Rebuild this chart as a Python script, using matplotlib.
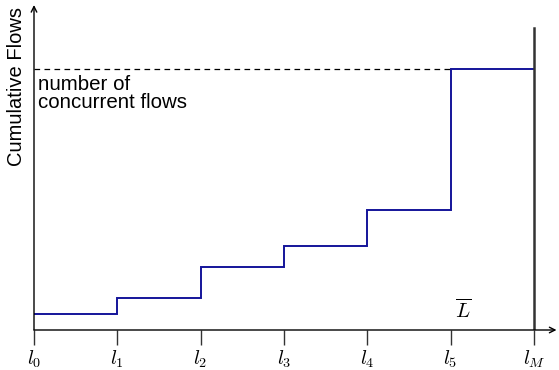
import matplotlib.pyplot as plt

plt.rcParams["mathtext.fontset"] = "cm"
plt.rcParams["font.family"] = ["Liberation Sans", "DejaVu Sans"]

# Step boundaries (link positions) and cumulative flow level on each step
tick_labels = [r"$l_0$", r"$l_1$", r"$l_2$", r"$l_3$", r"$l_4$", r"$l_5$", r"$l_M$"]
positions = [0, 1, 2, 3, 4, 5, 6]
levels = [16, 32, 63, 84, 120, 261]
concurrent = 261

fig = plt.figure(figsize=(5.59, 3.70), dpi=100)
ax = fig.add_axes([34 / 559, 40 / 370, 525 / 559, 325 / 370])
ax.set_xlim(0, 6.3)
ax.set_ylim(0, 325)

# staircase of cumulative flows
xs, ys = [], []
for i, v in enumerate(levels):
    xs += [positions[i], positions[i + 1]]
    ys += [v, v]
ax.plot(xs, ys, color="#14149a", lw=1.4, solid_joinstyle="miter")

# dashed marker for the number of concurrent flows
ax.plot([0, positions[5]], [concurrent, concurrent], color="black", lw=0.9,
        dashes=(4.5, 3.5))
ax.text(0.05, concurrent - 6, "number of\nconcurrent flows", fontsize=14.8,
        va="top", ha="left", linespacing=0.95)

# boundary at l_M
ax.plot([6, 6], [0, 302], color="#333333", lw=1.8)
ax.text(5.15, 20, r"$\overline{L}$", fontsize=15, ha="center", va="center")

# axes with arrow heads
for s in ax.spines.values():
    s.set_visible(False)
ax.annotate("", xy=(6.27, 0), xytext=(0, 0),
            arrowprops=dict(arrowstyle="->", lw=1.0, color="black",
                            shrinkA=0, shrinkB=0))
ax.annotate("", xy=(0, 325), xytext=(0, 0),
            arrowprops=dict(arrowstyle="->", lw=1.0, color="black",
                            shrinkA=0, shrinkB=0))

ax.set_xticks(positions)
ax.set_xticklabels(tick_labels, fontsize=14.5)
ax.tick_params(axis="x", direction="out", length=10.5, width=1.0, pad=3,
               color="#333333")
ax.set_yticks([])

# y-axis title placed by hand, left of the axis arrow
fig.text(17 / 559, 1 - 87 / 370, "Cumulative Flows", fontsize=14.5,
         rotation=90, ha="center", va="center")

fig.savefig("out.png", dpi=100)
